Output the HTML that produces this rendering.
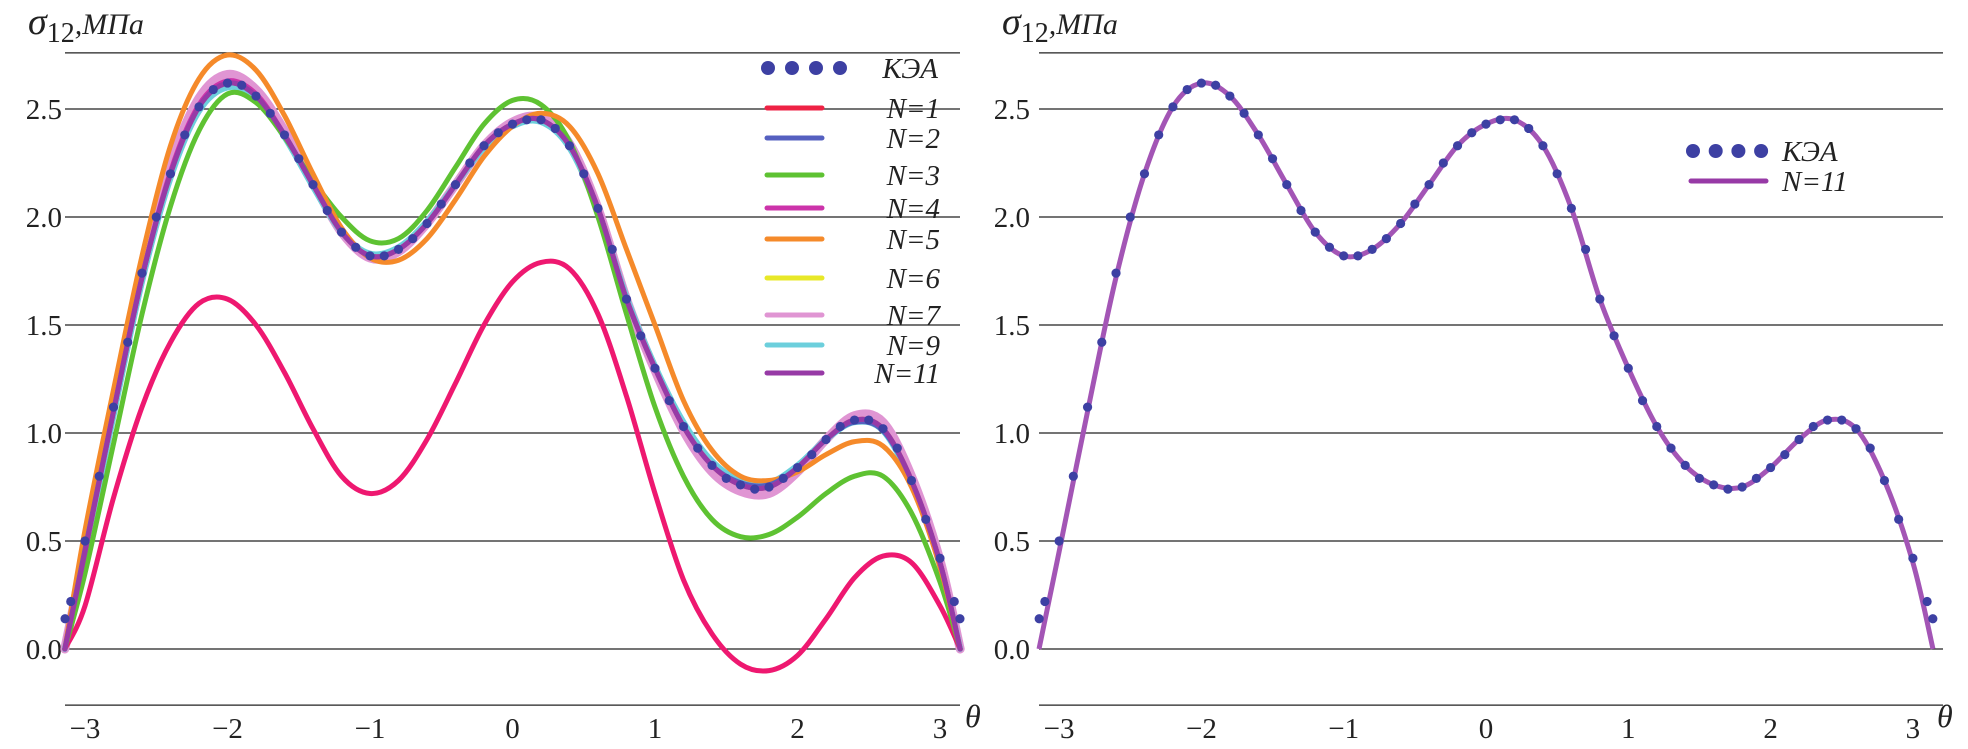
<!DOCTYPE html>
<html><head><meta charset="utf-8"><style>
html,body{margin:0;padding:0;background:#fff;}
svg text{font-family:"Liberation Serif",serif;fill:#222;}
</style></head><body>
<svg id="chart" width="1968" height="744" viewBox="0 0 1968 744" xmlns="http://www.w3.org/2000/svg">
<g id="left"></g>
<g id="right"></g>
</svg>
<script>
const PI = Math.PI;
const lineTheta = [-PI,-3.0,-2.8,-2.6,-2.4,-2.2,-2.0,-1.8,-1.6,-1.4,-1.2,-1.0,-0.8,-0.6,-0.4,-0.2,0,0.2,0.4,0.6,0.8,1.0,1.2,1.4,1.6,1.8,2.0,2.2,2.4,2.6,2.8,3.0,PI];
const n1  = [0,0.2,0.7,1.12,1.42,1.6,1.62,1.5,1.28,1.02,0.8,0.72,0.78,0.97,1.23,1.5,1.7,1.79,1.76,1.55,1.17,0.72,0.32,0.07,-0.07,-0.1,-0.03,0.14,0.33,0.43,0.4,0.2,0];
const n2  = [0,0.46,1.1,1.72,2.2,2.51,2.62,2.56,2.38,2.15,1.93,1.82,1.85,1.97,2.15,2.33,2.43,2.45,2.33,2.04,1.62,1.3,1.03,0.85,0.77,0.76,0.84,0.97,1.05,1.01,0.78,0.4,0];
const n3  = [0,0.35,0.95,1.55,2.05,2.4,2.57,2.53,2.37,2.17,2.0,1.89,1.9,2.03,2.23,2.43,2.54,2.52,2.35,2.0,1.55,1.12,0.8,0.6,0.52,0.53,0.61,0.72,0.8,0.8,0.63,0.31,0];
const n4  = [0,0.45,1.1,1.72,2.21,2.52,2.63,2.57,2.38,2.15,1.93,1.82,1.85,1.97,2.15,2.33,2.43,2.45,2.33,2.04,1.62,1.3,1.03,0.85,0.76,0.75,0.84,0.97,1.06,1.02,0.78,0.4,0];
const n5  = [0,0.55,1.2,1.82,2.33,2.64,2.75,2.68,2.47,2.2,1.95,1.81,1.8,1.9,2.08,2.28,2.42,2.48,2.42,2.2,1.85,1.5,1.15,0.92,0.8,0.78,0.82,0.9,0.96,0.94,0.75,0.38,0];
const n6  = [0,0.45,1.1,1.72,2.2,2.51,2.62,2.56,2.38,2.15,1.93,1.82,1.85,1.97,2.15,2.33,2.43,2.45,2.33,2.04,1.62,1.3,1.03,0.85,0.76,0.75,0.84,0.97,1.06,1.02,0.78,0.4,0];
const n7  = [0,0.46,1.12,1.75,2.24,2.55,2.66,2.59,2.4,2.16,1.93,1.81,1.84,1.97,2.15,2.33,2.44,2.46,2.34,2.04,1.62,1.29,1.01,0.82,0.73,0.72,0.82,0.97,1.08,1.05,0.8,0.41,0];
const n9  = [0,0.44,1.08,1.7,2.18,2.49,2.6,2.55,2.37,2.14,1.93,1.83,1.86,1.98,2.15,2.32,2.42,2.44,2.32,2.03,1.63,1.31,1.05,0.87,0.78,0.77,0.85,0.97,1.05,1.01,0.77,0.39,0];
const n11 = [0,0.45,1.1,1.72,2.2,2.51,2.62,2.56,2.38,2.15,1.93,1.82,1.85,1.97,2.15,2.33,2.43,2.45,2.33,2.04,1.62,1.3,1.03,0.85,0.76,0.75,0.84,0.97,1.06,1.02,0.78,0.4,0];
const keaTheta = [-3.14,-3.1,-3.0,-2.9,-2.8,-2.7,-2.6,-2.5,-2.4,-2.3,-2.2,-2.1,-2.0,-1.9,-1.8,-1.7,-1.6,-1.5,-1.4,-1.3,-1.2,-1.1,-1.0,-0.9,-0.8,-0.7,-0.6,-0.5,-0.4,-0.3,-0.2,-0.1,0,0.1,0.2,0.3,0.4,0.5,0.6,0.7,0.8,0.9,1.0,1.1,1.2,1.3,1.4,1.5,1.6,1.7,1.8,1.9,2.0,2.1,2.2,2.3,2.4,2.5,2.6,2.7,2.8,2.9,3.0,3.1,3.14];
const kea = [0.14,0.22,0.5,0.8,1.12,1.42,1.74,2.0,2.2,2.38,2.51,2.59,2.62,2.61,2.56,2.48,2.38,2.27,2.15,2.03,1.93,1.86,1.82,1.82,1.85,1.9,1.97,2.06,2.15,2.25,2.33,2.39,2.43,2.45,2.45,2.41,2.33,2.2,2.04,1.85,1.62,1.45,1.3,1.15,1.03,0.93,0.85,0.79,0.76,0.74,0.75,0.79,0.84,0.9,0.97,1.03,1.06,1.06,1.02,0.93,0.78,0.6,0.42,0.22,0.14];
const xTicks = [-3,-2,-1,0,1,2,3];
const yTicks = [0.0,0.5,1.0,1.5,2.0,2.5];
const yTickLabels = ["0.0","0.5","1.0","1.5","2.0","2.5"];
const leftSeries = [
 {name:"N=7",data:n7,color:"#e095d3",w:9},
 {name:"N=9",data:n9,color:"#6ccfdc",w:6},
 {name:"N=6",data:n6,color:"#e8e828",w:5},
 {name:"N=1",data:n1,color:"#ee1870",w:5},
 {name:"N=3",data:n3,color:"#5ec232",w:5},
 {name:"N=5",data:n5,color:"#f58a2a",w:5},
 {name:"N=2",data:n2,color:"#5560c0",w:5},
 {name:"N=4",data:n4,color:"#cc33aa",w:5},
 {name:"N=11",data:n11,color:"#973aa6",w:5}
];
const legendOrder = ["N=1","N=2","N=3","N=4","N=5","N=6","N=7","N=9","N=11"];
const legendColors = {"N=1":"#ee2244","N=2":"#5560c0","N=3":"#5ec232","N=4":"#cc33aa","N=5":"#f58a2a","N=6":"#e8e828","N=7":"#e095d3","N=9":"#6ccfdc","N=11":"#973aa6"};
const legendY = [108,138,175,208,239,278,315,345,373];

const NS="http://www.w3.org/2000/svg";
function mk(tag,attrs,parent){const e=document.createElementNS(NS,tag);for(const k in attrs)e.setAttribute(k,attrs[k]);parent.appendChild(e);return e;}
const ys = v => 649 - v*216;
function path(xs,vs,sx){
  const p=xs.map((t,i)=>[sx(t),ys(vs[i])]);
  let d="M"+p[0][0].toFixed(1)+","+p[0][1].toFixed(1);
  for(let i=0;i<p.length-1;i++){
    const p0=p[Math.max(0,i-1)],p1=p[i],p2=p[i+1],p3=p[Math.min(p.length-1,i+2)];
    const c1=[p1[0]+(p2[0]-p0[0])/6,p1[1]+(p2[1]-p0[1])/6];
    const c2=[p2[0]-(p3[0]-p1[0])/6,p2[1]-(p3[1]-p1[1])/6];
    d+=" C"+c1.map(v=>v.toFixed(1))+" "+c2.map(v=>v.toFixed(1))+" "+p2.map(v=>v.toFixed(1));
  }
  return d;
}
function axes(g,sx,x0,x1,labX,thetaX){
  [2.76,...yTicks,-0.26].forEach(v=>{
    const l=mk('line',{x1:x0,x2:x1,y1:ys(v),y2:ys(v),stroke:'#222','stroke-width':1.3},g);
    
    
  });
  yTicks.forEach((v,i)=>{
    const t=mk('text',{x:labX,y:ys(v)+10,'text-anchor':'end','font-size':29},g);
    
    
    t.textContent=yTickLabels[i];
  });
  xTicks.forEach(v=>{
    const t=mk('text',{x:sx(v),y:738,'text-anchor':'middle','font-size':29},g);
    
    
    t.textContent=(v<0?'\u2212':'')+Math.abs(v);
  });
  const th=mk('text',{x:thetaX,y:727,'font-size':32,'font-style':'italic'},g);
  
  
  th.textContent='θ';
  const yt=mk('text',{x:x0-37,y:34,'font-size':38},g);
  
  
  yt.innerHTML='<tspan font-style="italic">σ</tspan><tspan dy="8" font-size="28">12</tspan><tspan dy="-8" font-size="30" font-style="italic">,МПа</tspan>';
}
function markers(g,sx){
  keaTheta.forEach((t,i)=>{
    const c=mk('circle',{cx:sx(t),cy:ys(kea[i]),r:4.6,fill:'#3d40a3'},g);
    
    
  });
}
// left
const L=document.getElementById('left');
const sxL=t=>512.5+t*142.5;
axes(L,sxL,65,960,62,965);
leftSeries.forEach(s=>{
  const p=mk('path',{d:path(lineTheta,s.data,sxL),fill:'none',stroke:s.color,'stroke-width':s.w,'stroke-linejoin':'round','stroke-linecap':'round'},L);
  
  
});
markers(L,sxL);
for(let k=0;k<4;k++){
  const c=mk('circle',{cx:768+k*24,cy:68,r:7,fill:'#3d40a3'},L);
  
  
}
let t=mk('text',{x:938,y:78,'text-anchor':'end','font-size':29,'font-style':'italic'},L);


t.textContent='КЭА';
legendOrder.forEach((nm,i)=>{
  const l=mk('line',{x1:767,x2:822,y1:legendY[i],y2:legendY[i],stroke:legendColors[nm],'stroke-width':5,'stroke-linecap':'round'},L);
  
  
  const tx=mk('text',{x:940,y:legendY[i]+10,'text-anchor':'end','font-size':29,'font-style':'italic'},L);
  
  
  tx.textContent=nm;
});
// right
const R=document.getElementById('right');
const sxR=t=>1486+t*142.3;
axes(R,sxR,1039,1943,1030,1937);
const pr=mk('path',{d:path(lineTheta,n11,sxR),fill:'none',stroke:'#a355b5','stroke-width':5,'stroke-linejoin':'round'},R);


markers(R,sxR);
for(let k=0;k<4;k++){
  const c=mk('circle',{cx:1693+k*22.7,cy:151,r:7,fill:'#3d40a3'},R);
  
  
}
t=mk('text',{x:1782,y:161,'font-size':29,'font-style':'italic'},R);


t.textContent='КЭА';
const ll=mk('line',{x1:1691,x2:1766,y1:181,y2:181,stroke:'#973aa6','stroke-width':5,'stroke-linecap':'round'},R);


t=mk('text',{x:1782,y:191,'font-size':29,'font-style':'italic'},R);


t.textContent='N=11';
</script>
</body></html>
